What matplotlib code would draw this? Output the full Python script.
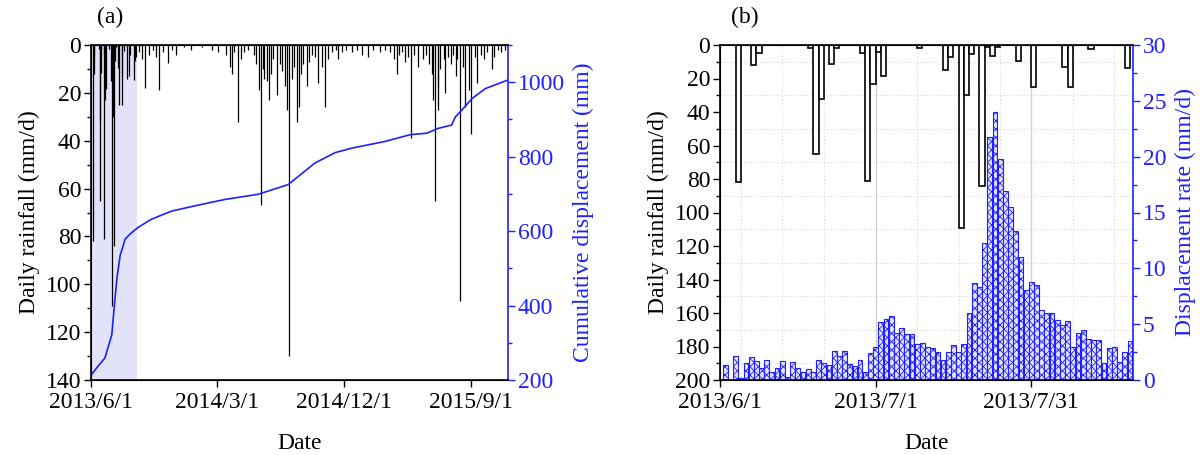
import numpy as np
import pandas as pd
import matplotlib
matplotlib.use('Agg')
import matplotlib.pyplot as plt
from matplotlib.ticker import MultipleLocator

plt.rcParams['font.family'] = ['Liberation Serif', 'DejaVu Serif']
plt.rcParams['font.size'] = 17
plt.rcParams['hatch.linewidth'] = 0.6

start = pd.Timestamp('2013-06-01')

# (b) daily rainfall, days counted from 2013/6/1
b_rain_day = [3, 6, 7, 17, 18, 19, 21, 22, 27, 28, 29, 30, 31, 38, 43, 44,
              46, 47, 48, 50, 51, 52, 53, 57, 60, 66, 67, 71, 78]
b_rain_mm = [82, 12, 5, 1.5, 65, 32, 11.5, 2, 5, 81, 23, 4, 18.5, 1.5, 15, 7,
             109, 30, 5.5, 84, 1, 6.5, 1, 9.5, 25, 13, 25, 2.5, 14]

# (b) displacement rate (mm/d), days 1..80
b_rate = [1.3, 0, 2.15, 0.2, 1.55, 2.03, 1.7, 1.05, 1.8, 0.75,
          1.05, 1.7, 0.24, 1.58, 1.1, 0.75, 0.95, 0.72, 1.8, 1.55,
          1.34, 2.63, 2.15, 2.63, 1.4, 1.28, 1.8, 0.75, 2.42, 2.93,
          5.2, 5.43, 5.7, 4.24, 4.63, 4.15, 4.15, 3.22, 3.28, 2.98,
          2.84, 2.54, 1.8, 2.54, 3.1, 2.54, 3.2, 5.97, 8.7, 8.35,
          12.24, 21.8, 24.0, 19.75, 16.9, 15.5, 13.3, 11.04, 8.06, 8.8,
          8.5, 6.27, 6.03, 5.97, 5.37, 4.92, 5.28, 2.98, 4.24, 4.48,
          3.64, 3.58, 3.58, 1.49, 2.84, 2.93, 1.64, 2.54, 3.52, 1.49]

# (a) rainfall after the first 80 days
a_rain_day = [82, 85, 92, 95, 97, 104, 110, 117, 125, 133, 140, 147, 155, 167,
              175, 183, 200, 215, 240, 262, 275,
              291, 301, 305, 310, 318, 325, 331, 340, 352, 357, 364, 368, 372,
              375, 381, 384, 389, 394, 402, 408, 414, 420, 424, 429, 434, 439,
              445, 449, 454, 459, 467, 472, 479, 485, 492, 499, 507, 513, 522,
              529, 535, 544, 552, 565, 576, 587, 600, 611, 626, 637,
              648, 656, 663, 667, 674, 680, 687, 693, 700, 708, 719, 726, 732,
              737, 741, 745, 750, 752, 756, 763, 767, 773, 780, 784, 789, 793,
              799, 804, 810, 817, 823, 830, 836, 843, 851, 858, 867, 873, 880,
              888, 897]
a_rain_mm = [13, 4, 14.5, 6.5, 5, 3, 6, 18, 4, 2, 5, 19, 3, 7.5,
             2, 4, 1, 2, 1, 2, 3,
             4, 9, 12, 3, 32, 6, 3, 2, 4, 8, 19, 67, 10,
             14, 15, 23, 12, 6, 21, 8, 11, 17, 27, 130, 14, 9,
             32, 26, 12, 8, 17, 7, 4, 5, 16, 9, 26, 6, 3,
             2, 6, 3, 2, 3, 2, 4, 5, 2, 3, 2,
             3, 6, 12, 4, 3, 7, 5, 39, 4, 9, 6, 4, 8,
             12, 23, 65, 18, 27, 10, 6, 20, 5, 8, 4, 13, 6,
             107, 9, 26, 19, 37, 5, 16, 4, 6, 3, 10, 5, 2,
             3, 2]

# (a) cumulative displacement (mm)
cum_day = [0, 12, 30, 45, 50, 56, 63, 74, 88, 102, 131, 175, 240, 290, 362,
           427, 449, 485, 529, 565, 637, 691, 727, 752, 781, 789, 803, 825,
           854, 901]
cum_mm = [213, 232, 259, 321, 392, 472, 534, 579, 596, 610, 632, 654, 672,
          685, 699, 725, 747, 783, 811, 823, 841, 859, 863, 876, 885, 907,
          925, 956, 983, 1005]


def to_dates(days):
    return start + pd.to_timedelta(np.asarray(days, dtype=float), unit='D')


def date_label(d):
    return '%d/%d/%d' % (d.year, d.month, d.day)


blue = '#1f1fff'
fig = plt.figure(figsize=(12, 4.55), dpi=100)

# ---------------- (a) ----------------
ax = fig.add_axes([91 / 1200, 75 / 455, 417 / 1200, 335 / 455])
ax2 = ax.twinx()

all_day = list(b_rain_day) + list(a_rain_day)
all_mm = list(b_rain_mm) + list(a_rain_mm)
ax.axvspan(start, start + pd.Timedelta(days=100), color='#e2e2f8', lw=0)
ax.vlines(to_dates(all_day) + pd.Timedelta(hours=12), 0, all_mm,
          color='black', lw=0.9)
ax.set_ylim(140, 0)
ax.yaxis.set_major_locator(MultipleLocator(20))
ax.yaxis.set_minor_locator(MultipleLocator(10))
ax.set_ylabel('Daily rainfall (mm/d)', labelpad=4)
ticks_a = pd.to_datetime(['2013-06-01', '2014-03-01', '2014-12-01', '2015-09-01'])
ax.set_xticks(ticks_a)
ax.set_xticklabels([date_label(d) for d in ticks_a])
ax.set_xlim(start, pd.Timestamp('2015-11-21'))
ax.set_xlabel('Date', labelpad=14)

ax2.plot(to_dates(cum_day), cum_mm, color=blue, lw=1.2)
ax2.set_ylim(200, 1100)
ax2.yaxis.set_major_locator(MultipleLocator(200))
ax2.yaxis.set_minor_locator(MultipleLocator(100))
ax2.set_ylabel('Cumulative displacement (mm)', color=blue, labelpad=6)

# ---------------- (b) ----------------
bx = fig.add_axes([720 / 1200, 75 / 455, 413 / 1200, 335 / 455])
bx2 = bx.twinx()

bx.set_axisbelow(True)
bx.grid(which='minor', axis='y', ls=(0, (1, 2)), color='#d4d4d4', lw=0.8)
for d in ['2013-06-05', '2013-06-13', '2013-06-21', '2013-07-09',
          '2013-07-17', '2013-07-25', '2013-08-08', '2013-08-16']:
    bx.axvline(pd.Timestamp(d), ls=(0, (1, 2)), color='#d4d4d4', lw=0.8, zorder=0)
for d in ['2013-07-01', '2013-07-31']:
    bx.axvline(pd.Timestamp(d), color='#cfcfcf', lw=0.9, zorder=0)

bx.bar(to_dates(b_rain_day), b_rain_mm, width=1.0, align='edge',
       facecolor='white', edgecolor='black', lw=1.2, zorder=2)
bx.set_ylim(200, 0)
bx.yaxis.set_major_locator(MultipleLocator(20))
bx.yaxis.set_minor_locator(MultipleLocator(10))
bx.set_ylabel('Daily rainfall (mm/d)', labelpad=4)
ticks_b = pd.to_datetime(['2013-06-01', '2013-07-01', '2013-07-31'])
bx.set_xticks(ticks_b)
bx.set_xticklabels([date_label(d) for d in ticks_b])
bx.set_xlim(start, start + pd.Timedelta(days=79.6))
bx.set_xlabel('Date', labelpad=14)

rate_day = np.arange(1, len(b_rate) + 1)
bx2.bar(to_dates(rate_day), b_rate, width=0.92, facecolor='#e4e4ff',
        edgecolor=blue, hatch='xxxx', lw=0.8)
bx2.set_ylim(0, 30)
bx2.yaxis.set_major_locator(MultipleLocator(5))
bx2.yaxis.set_minor_locator(MultipleLocator(2.5))
bx2.set_ylabel('Displacement rate (mm/d)', color=blue, labelpad=6)

for a, a2 in [(ax, ax2), (bx, bx2)]:
    a.spines['right'].set_visible(False)
    a2.spines['right'].set_color(blue)
    a2.spines['right'].set_linewidth(1.2)
    a.tick_params(which='major', direction='out', length=5, width=1, pad=2)
    a.tick_params(which='minor', direction='out', length=3, width=1)
    a.tick_params(axis='x', which='major', pad=4)
    a2.tick_params(which='major', direction='out', length=5, width=1, pad=2,
                   colors=blue)
    a2.tick_params(which='minor', direction='out', length=3, width=1,
                   colors=blue)
    for s in ['left', 'bottom', 'top']:
        a2.spines[s].set_linewidth(1.2)

fig.text(110 / 1200, 1 - 17 / 455, '(a)', ha='center', va='center')
fig.text(745 / 1200, 1 - 17 / 455, '(b)', ha='center', va='center')

fig.savefig('out.png', dpi=100)
